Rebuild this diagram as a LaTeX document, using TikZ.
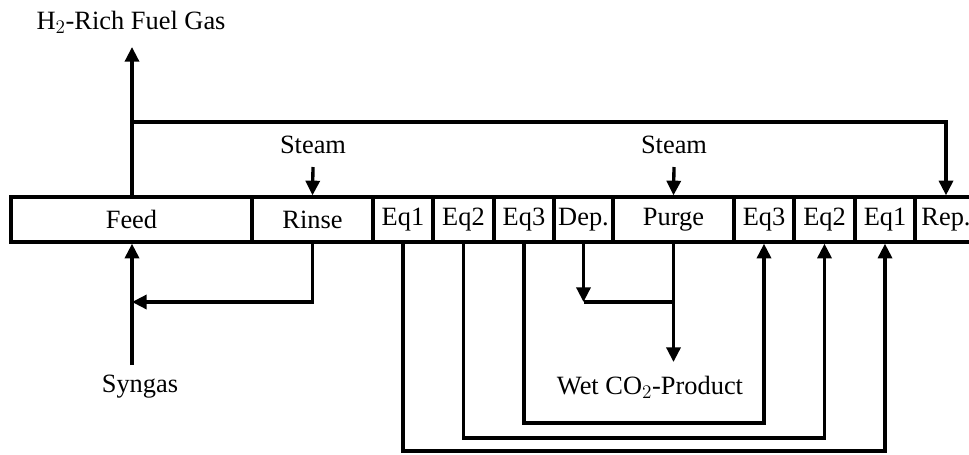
\documentclass[tikz,border=0pt]{standalone}
\usepackage{fontspec}
\setmainfont{Liberation Serif}
\usetikzlibrary{arrows.meta}
\begin{document}
\begin{tikzpicture}[x=0.75pt,y=-0.75pt,
  every node/.style={font=\fontsize{19.8}{24}\selectfont},
  seg/.style={draw,line width=2.5pt,minimum height=33.75pt,inner sep=0pt},
  flow/.style={line width=2.5pt,-{Triangle[length=11pt,width=10.5pt]}},
  plain/.style={line width=2.5pt},
  lbl/.style={inner sep=0pt}]
\useasboundingbox (0,0) rectangle (969,454);
% bar segments
\node[seg,minimum width=180.75pt] (feed)  at (131.5,219.5) {Feed};
\node[seg,minimum width=90.75pt]  (rinse) at (312.5,219.5) {Rinse};
\node[seg,minimum width=45pt]     (eqa1)  at (403,219.5) {Eq1};
\node[seg,minimum width=45.75pt]  (eqa2)  at (463.5,219.5) {Eq2};
\node[seg,minimum width=45pt]     (eqa3)  at (524,219.5) {Eq3};
\node[seg,minimum width=44.25pt]  (dep)   at (583.5,219.5) {Dep.};
\node[seg,minimum width=90.75pt]  (purge) at (673.5,219.5) {Purge};
\node[seg,minimum width=45pt]     (eqb3)  at (764,219.5) {Eq3};
\node[seg,minimum width=45.75pt]  (eqb2)  at (824.5,219.5) {Eq2};
\node[seg,minimum width=45pt]     (eqb1)  at (885,219.5) {Eq1};
\node[seg,minimum width=46.5pt]   (rep)   at (946,219.5) {Rep.};
% labels
\node[lbl] (fuel)   at (131,22)  {H$_2$-Rich Fuel Gas};
\node[lbl] (steam1) at (313,145) {Steam};
\node[lbl] (steam2) at (674,145) {Steam};
\node[lbl] (syngas) at (140,387) {Syngas};
\node[lbl] (wet)    at (650,387) {Wet CO$_2$-Product};
% helper coordinates
\coordinate (fueltip) at (132,47);
\coordinate (split) at (132,122);
\coordinate (s1) at (313,167);
\coordinate (s2) at (674,167);
\coordinate (syn) at (132,365);
\coordinate (rinsein) at (132,302);
\coordinate (depend) at (583.5,302);
\coordinate (purgeend) at (673.5,362);
\coordinate (purgej) at (673.5,302);
\coordinate (l3) at (0,423);
\coordinate (l2) at (0,438);
\coordinate (l1) at (0,451);
% connectors
\draw[flow] (feed.north -| split) -- (fueltip);
\draw[flow] (split) -| (rep.north);
\draw[flow] (s1) -- (rinse.north);
\draw[flow] (s2) -- (purge.north);
\draw[flow] (syn) -- (feed.south -| syn);
\draw[flow] (rinse.south) |- (rinsein);
\draw[flow] (dep.south) -- (depend);
\draw[flow] (purge.south) -- (purgeend);
\draw[plain] (depend) -- (purgej);
\draw[flow] (eqa3.south) -- (eqa3.south |- l3) -| (eqb3.south);
\draw[flow] (eqa2.south) -- (eqa2.south |- l2) -| (eqb2.south);
\draw[flow] (eqa1.south) -- (eqa1.south |- l1) -| (eqb1.south);
\end{tikzpicture}
\end{document}
